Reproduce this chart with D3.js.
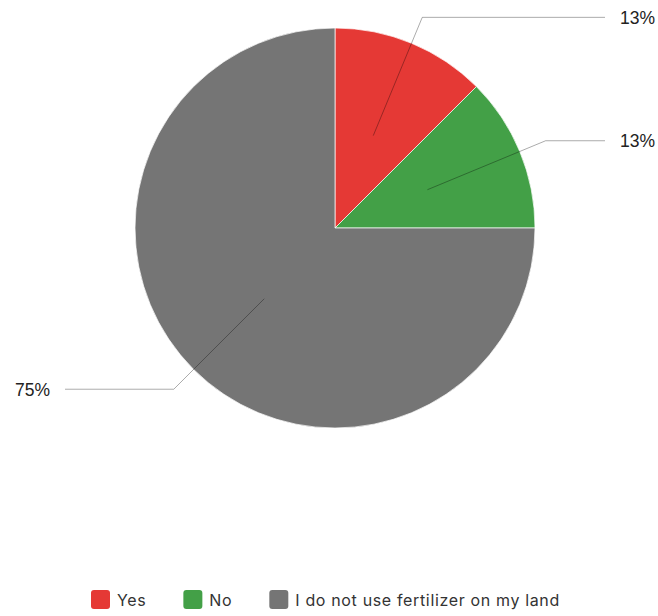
<!DOCTYPE html>
<html><head><meta charset="utf-8">
<script src="https://cdn.jsdelivr.net/npm/d3@7"></script>
<style>body{margin:0;background:#fff}</style>
</head><body>
<svg id="c" width="658" height="616"></svg>
<script>
const categories = ["Yes", "No", "I do not use fertilizer on my land"];
const values = [12.5, 12.5, 75];
const labels = ["13%", "13%", "75%"];
const colors = ["#e53935", "#43a047", "#757575"];

const svg = d3.select("#c");
const cx = 335, cy = 228, R = 200;
const g = svg.append("g").attr("transform", `translate(${cx},${cy})`);
const pie = d3.pie().sort(null).value(d => d)(values);
const arc = d3.arc().innerRadius(0).outerRadius(R);

g.selectAll("path.s").data(pie).join("path")
  .attr("d", arc)
  .attr("fill", (d, i) => colors[i])
  .attr("stroke", "#fff").attr("stroke-width", 0.7);

const inner = d3.arc().innerRadius(100).outerRadius(100);
const elbow = d3.arc().innerRadius(228).outerRadius(228);
pie.forEach((d, i) => {
  const a = inner.centroid(d), b = elbow.centroid(d);
  const right = b[0] > 0;
  const endX = right ? 605 - cx : 65 - cx;
  g.append("polyline")
    .attr("points", [a, b, [endX, b[1]]].map(p => p.join(",")).join(" "))
    .attr("fill", "none").attr("stroke", "rgba(0,0,0,0.33)").attr("stroke-width", 1);
  g.append("text")
    .attr("x", right ? 620 - cx : 50 - cx)
    .attr("y", b[1]).attr("dy", "0.36em")
    .attr("text-anchor", right ? "start" : "end")
    .attr("font-family", "Liberation Sans, Arial, sans-serif")
    .attr("font-size", 17.5).attr("fill", "#222")
    .text(labels[i]);
});

// legend
const lg = svg.append("g");
let x = 91;
categories.forEach((c, i) => {
  lg.append("rect").attr("x", x).attr("y", 590).attr("width", 19).attr("height", 19)
    .attr("rx", 3).attr("fill", colors[i]);
  const t = lg.append("text").attr("x", x + 26).attr("y", 606)
    .attr("font-family", "Inter, Noto Sans, sans-serif")
    .attr("letter-spacing", "0.65px")
    .attr("font-size", 16).attr("fill", "#333").text(c);
  x += 26 + t.node().getComputedTextLength() + 37;
});
</script>
</body></html>
